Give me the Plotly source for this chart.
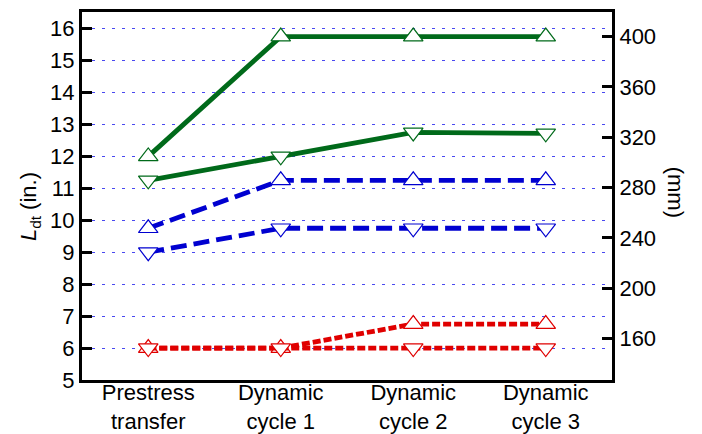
import plotly.graph_objects as go

# Stage labels along the x axis
stages = ["Prestress<br>transfer", "Dynamic<br>cycle 1", "Dynamic<br>cycle 2", "Dynamic<br>cycle 3"]

# Transfer length L_dt (in.) per series
green_up = [12.0, 15.75, 15.75, 15.75]
green_down = [11.25, 12.0, 12.75, 12.72]
blue_up = [9.75, 11.25, 11.25, 11.25]
blue_down = [9.0, 9.75, 9.75, 9.75]
red_up = [6.0, 6.0, 6.75, 6.75]
red_down = [6.0, 6.0, 6.0, 6.0]

# Axis ticks
in_ticks = list(range(5, 17))
mm_ticks = [160, 200, 240, 280, 320, 360, 400]
y_range_in = [5.0, 16.52]
MM_PER_IN = 25.4

FONT = "Liberation Sans"
FS = 22
GREEN = "#006a1a"
BLUE = "#0000d0"
RED = "#e00000"

x = list(range(len(stages)))

series = [
    (green_up, GREEN, "solid", "triangle-up"),
    (green_down, GREEN, "solid", "triangle-down"),
    (blue_up, BLUE, "16px,7px", "triangle-up"),
    (blue_down, BLUE, "16px,7px", "triangle-down"),
    (red_up, RED, "8px,3px", "triangle-up"),
    (red_down, RED, "8px,3px", "triangle-down"),
]

fig = go.Figure()
for vals, color, dash, symbol in series:
    fig.add_trace(go.Scatter(
        x=x, y=vals, mode="lines+markers",
        line=dict(color=color, width=4.8, dash=dash),
        marker=dict(symbol=symbol, size=17, color="white",
                    line=dict(color=color, width=1.2)),
        showlegend=False, hoverinfo="skip",
    ))

# Same data in mm on the secondary axis (invisible), so the mm scale is drawn
fig.add_trace(go.Scatter(
    x=x, y=[v * MM_PER_IN for v in green_up], yaxis="y2",
    mode="markers", marker=dict(opacity=0), showlegend=False, hoverinfo="skip",
))

fig.update_layout(
    width=702, height=434,
    margin=dict(l=82, r=90, t=12, b=54, autoexpand=False),
    paper_bgcolor="white", plot_bgcolor="white",
    font=dict(family=FONT, size=FS, color="black"),
    xaxis=dict(
        range=[-0.5, 3.5], tickvals=x, ticktext=stages,
        showgrid=False, zeroline=False, ticks="", automargin=False,
        ticklabelstandoff=-9,
        showline=True, linecolor="black", linewidth=3, mirror=True,
        tickfont=dict(family=FONT, size=FS),
    ),
    yaxis=dict(
        range=y_range_in, tickvals=in_ticks, automargin=False,
        showgrid=True, gridcolor="#4848f0", gridwidth=1.4, griddash="3px,7px",
        zeroline=False, ticks="inside", ticklen=10, tickwidth=2.5, tickcolor="black",
        showline=True, linecolor="black", linewidth=3,
        tickfont=dict(family=FONT, size=FS),
    ),
    yaxis2=dict(
        range=[v * MM_PER_IN for v in y_range_in], tickvals=mm_ticks,
        overlaying="y", side="right", anchor="x", automargin=False,
        showgrid=False, zeroline=False, ticks="inside", ticklen=10, tickwidth=2.5,
        tickcolor="black", showline=True, linecolor="black", linewidth=3,
        tickfont=dict(family=FONT, size=FS),
    ),
    annotations=[
        dict(text="<i>L</i><sub>dt</sub> (in.)", textangle=-90,
             xref="paper", yref="paper", x=-0.098, y=0.47,
             xanchor="center", yanchor="middle", showarrow=False,
             font=dict(family=FONT, size=FS)),
        dict(text="(mm)", textangle=90,
             xref="paper", yref="paper", x=1.12, y=0.51,
             xanchor="center", yanchor="middle", showarrow=False,
             font=dict(family=FONT, size=FS)),
    ],
)

fig.write_html("out.html")
